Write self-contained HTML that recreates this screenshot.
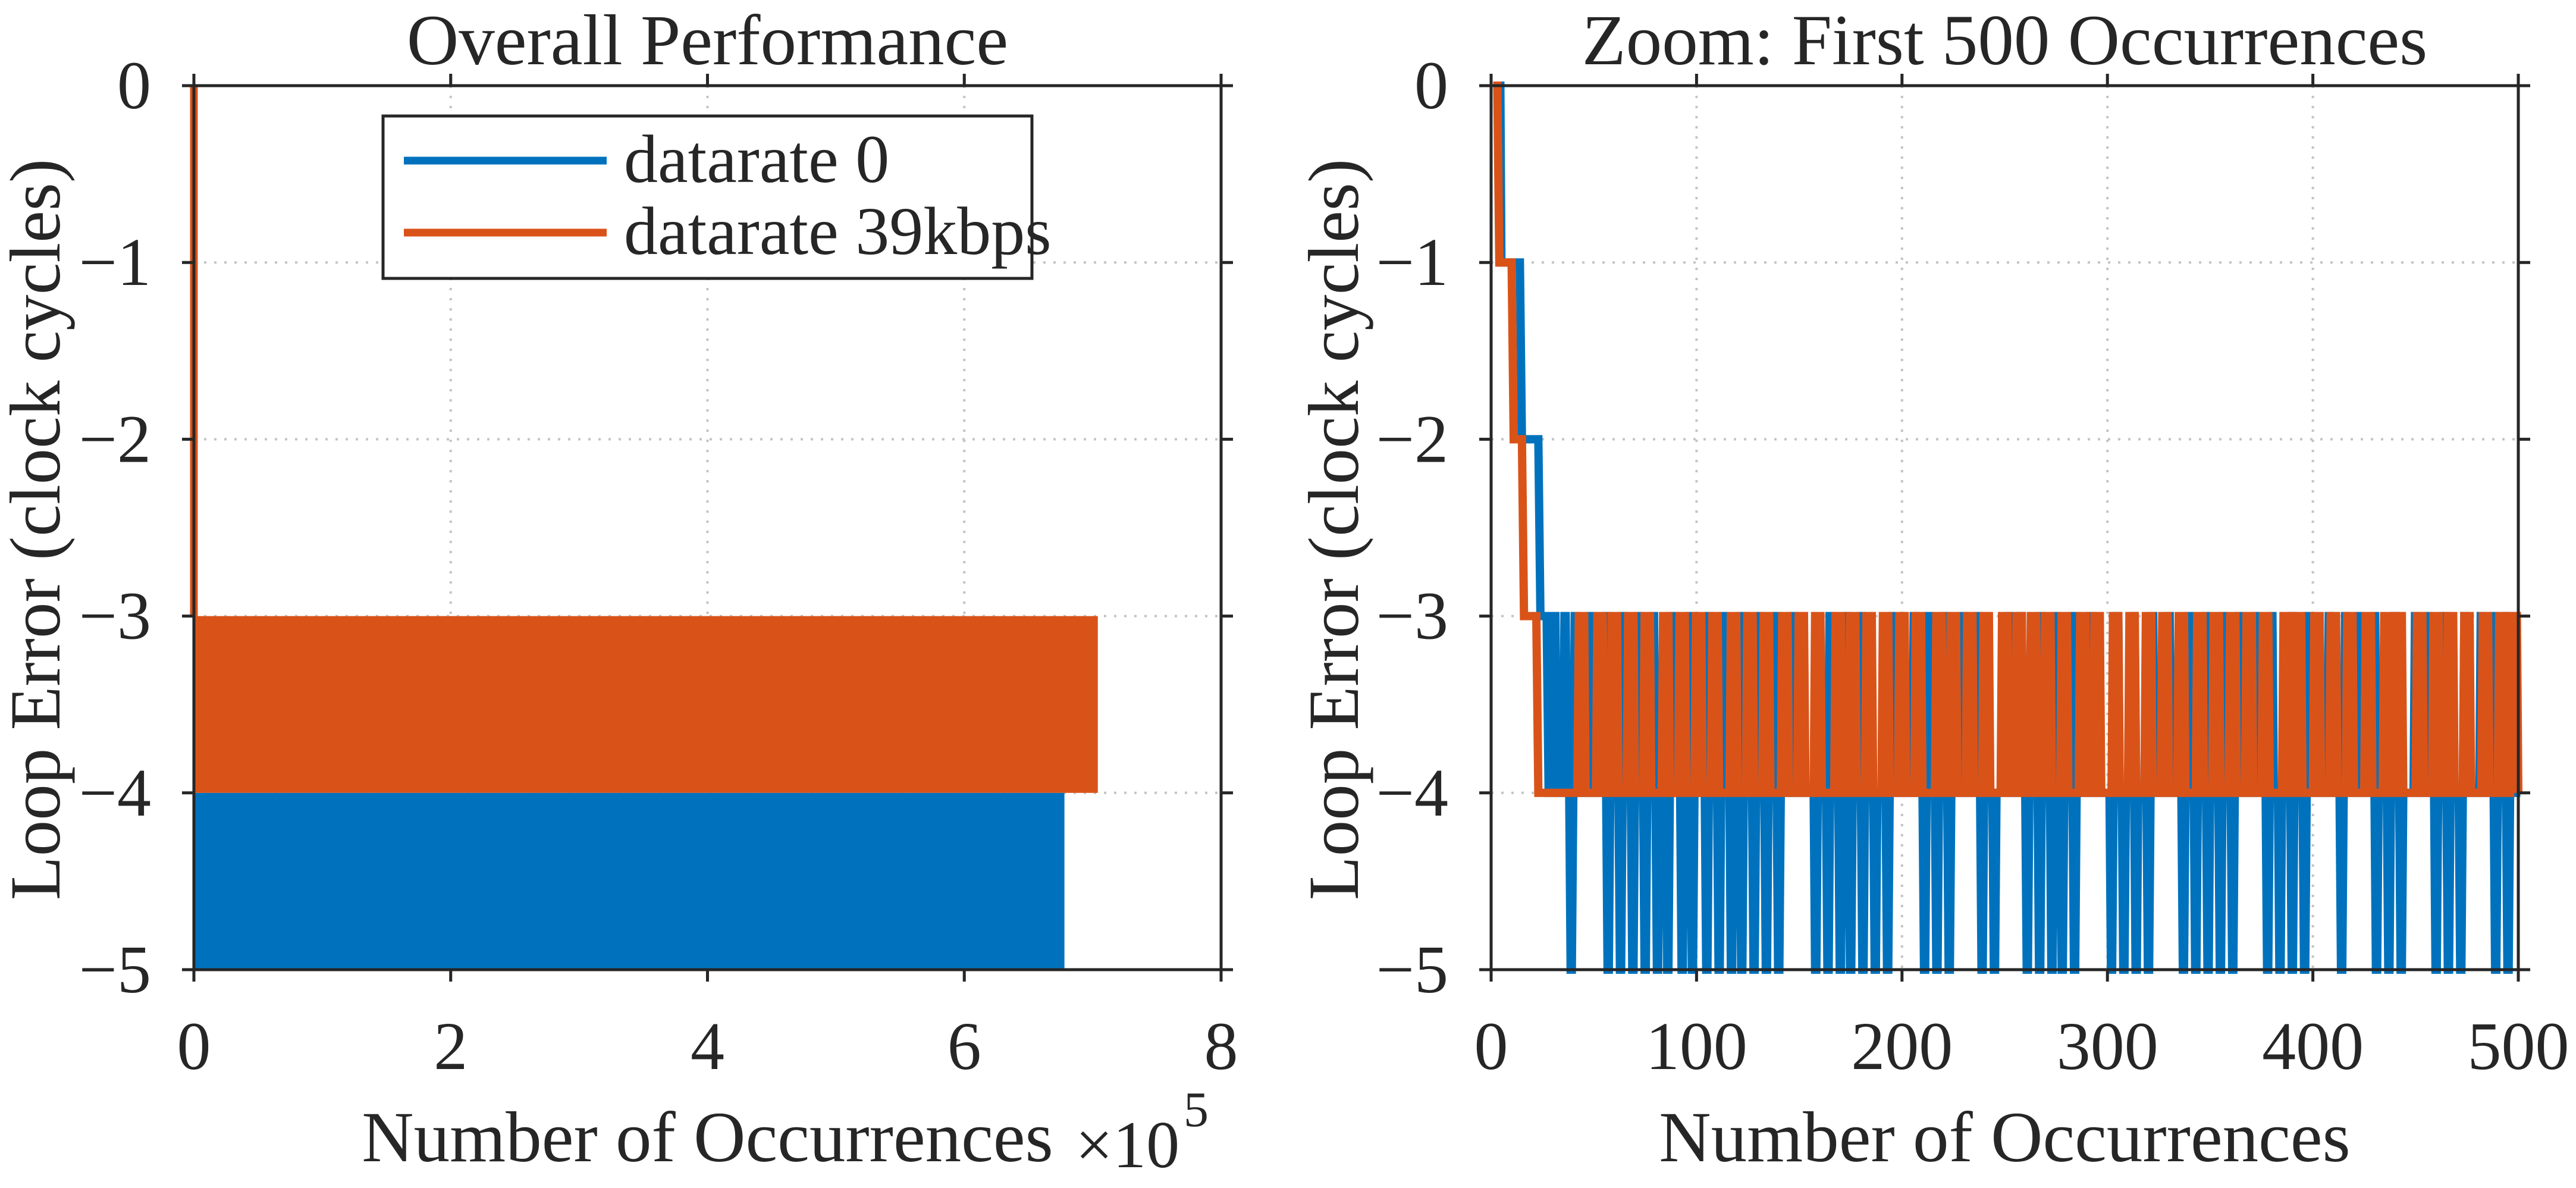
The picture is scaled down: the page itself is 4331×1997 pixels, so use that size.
<!DOCTYPE html>
<html><head><meta charset="utf-8">
<style>
html,body{margin:0;padding:0;background:#fff;}
svg{display:block;}
text{font-family:"Liberation Serif",serif;fill:#262626;}
</style></head>
<body>
<svg id="fig" width="4331" height="1997" viewBox="0 0 4331 1997" xmlns="http://www.w3.org/2000/svg">
<rect x="0" y="0" width="4331" height="1997" fill="#fff"/>
</svg>
<script>
// ---- data ----
const yTicks = [0, -1, -2, -3, -4, -5];
const yTickLabels = ["0", "\u22121", "\u22122", "\u22123", "\u22124", "\u22125"];
const leftXTicks = [0, 2, 4, 6, 8];
const leftXTickLabels = ["0", "2", "4", "6", "8"];
const rightXTicks = [0, 100, 200, 300, 400, 500];
const rightXTickLabels = ["0", "100", "200", "300", "400", "500"];
// overall panel (x in units of 1e5)
const overallBlueLevels = [-5, -4];
const overallBlueCount = 6.78;
const overallOrangeLevels = [-4, -3];
const overallOrangeCount = 7.04;
const overallOrangeTransient = [0, -3];
// zoom panel: initial transients (x, y)
const blueStartX = [1, 4.5, 5, 14, 15, 23, 24, 27, 28];
const blueStartY = [0, 0, -1, -1, -2, -2, -3, -3, -4];
const orangeStartX = [1, 3, 4, 10, 11, 15, 16, 22, 23];
const orangeStartY = [0, 0, -1, -1, -2, -2, -3, -3, -4];
// zoom panel: oscillation events
const orangePeaks = [44,53,60,68,76,85,93,101,109,118,126,134,143,151,159,169,176,184,192,200,208,218,225,233,241,250,257,264,271,279,288,295,304,312,320,328,336,345,353,361,369,377,387,393,402,410,418,427,436,442,452,460,467,475,484,492,498];
const blueDips = [39,57,63,69,75,81,86,93,98,105,111,117,122,128,134,140,158,164,170,175,181,187,193,211,217,223,239,245,261,267,273,278,284,302,308,314,320,337,343,349,355,361,378,384,390,396,414,431,437,443,460,466,472,489,495];
const bluePeaks = [31,36,41,48,56,64,72,79,89,97,106,113,122,131,139,147,165,173,180,195,206,213,221,230,237,252,258,268,275,283,292,305,313,322,330,340,348,356,364,372,380,390,398,408,416,422,430,440,450,456,464,474,482,488,494];
const blueEndY = -4;

// ---- layout ----
const NS = "http://www.w3.org/2000/svg";
const svg = document.getElementById("fig");
const TOP = 144, BOT = 1630;
const panels = {
  left: {x0: 326, x1: 2053, xmin: 0, xmax: 8},
  right: {x0: 2507, x1: 4234, xmin: 0, xmax: 500}
};
const BLUE = "#0072BD", ORANGE = "#D95319", AX = "#262626";
function sy(v) { return TOP + (0 - v) / 5 * (BOT - TOP); }
function sxf(p) { return v => p.x0 + (v - p.xmin) / (p.xmax - p.xmin) * (p.x1 - p.x0); }
function mk(tag, attrs, parent) {
  const e = document.createElementNS(NS, tag);
  for (const k in attrs) e.setAttribute(k, attrs[k]);
  (parent || svg).appendChild(e);
  return e;
}

function drawPanel(key, xTicks, xLabels, title, series) {
  const p = panels[key];
  const sx = sxf(p);
  const g = mk("g", {});
  
  
  xTicks.forEach(t => {
    if (t === p.xmin || t === p.xmax) return;
    const l = mk("line", {x1: sx(t), x2: sx(t), y1: TOP, y2: BOT, stroke: "#c4c4c4", "stroke-width": 4, "stroke-dasharray": "4 13"}, g);
    
    
  });
  yTicks.forEach(t => {
    if (t === 0 || t === -5) return;
    const l = mk("line", {x1: p.x0, x2: p.x1, y1: sy(t), y2: sy(t), stroke: "#c4c4c4", "stroke-width": 4, "stroke-dasharray": "4 13"}, g);
    
    
  });
  series(g, sx);
  const box = mk("rect", {x: p.x0, y: TOP, width: p.x1 - p.x0, height: BOT - TOP, fill: "none", stroke: AX, "stroke-width": 5}, g);
  
  
  xTicks.forEach((t, i) => {
    const x = sx(t);
    const tk = mk("path", {d: `M${x},${TOP} v-20 M${x},${BOT} v20`, stroke: AX, "stroke-width": 5}, g);
    
    
    const lb = mk("text", {x: x, y: 1797, "text-anchor": "middle", "font-size": 114}, g);
    lb.textContent = xLabels[i];
    
    
  });
  yTicks.forEach((t, i) => {
    const y = sy(t);
    const tk = mk("path", {d: `M${p.x0},${y} h-20 M${p.x1},${y} h20`, stroke: AX, "stroke-width": 5}, g);
    
    
    const lb = mk("text", {x: p.x0 - 72, y: y + 38, "text-anchor": "end", "font-size": 114}, g);
    lb.textContent = yTickLabels[i];
    
    
  });
  const cx = (p.x0 + p.x1) / 2;
  const tt = mk("text", {x: cx, y: 108, "text-anchor": "middle", "font-size": 121, fill: "#000"}, g);
  tt.textContent = title;
  
  
  const xl = mk("text", {x: cx, y: 1952, "text-anchor": "middle", "font-size": 121}, g);
  xl.textContent = "Number of Occurrences";
  
  
  const yx = key === "left" ? 100 : 2283;
  const yl = mk("text", {x: yx, y: 890, "text-anchor": "middle", "font-size": 121, transform: `rotate(-90 ${yx} 890)`}, g);
  yl.textContent = "Loop Error (clock cycles)";
  
  
  return sx;
}

drawPanel("left", leftXTicks, leftXTickLabels, "Overall Performance", (g, sx) => {
  const b = mk("rect", {x: sx(0), y: sy(overallBlueLevels[1]), width: sx(overallBlueCount) - sx(0), height: sy(overallBlueLevels[0]) - sy(overallBlueLevels[1]), fill: BLUE}, g);
  
  
  const o = mk("rect", {x: sx(0), y: sy(overallOrangeLevels[1]), width: sx(overallOrangeCount) - sx(0), height: sy(overallOrangeLevels[0]) - sy(overallOrangeLevels[1]), fill: ORANGE}, g);
  
  
  const v = mk("line", {x1: sx(0), x2: sx(0), y1: sy(overallOrangeTransient[0]), y2: sy(overallOrangeTransient[1]), stroke: ORANGE, "stroke-width": 13}, g);
  
  
});
const ex = mk("text", {x: 1808, y: 1962, "font-size": 112});
ex.textContent = "\u00d710";


const ex5 = mk("text", {x: 1990, y: 1893, "font-size": 84});
ex5.textContent = "5";



function buildPoints(sx, startX, startY, events) {
  const pts = startX.map((x, i) => [x, startY[i]]);
  events.sort((a, b) => a.c - b.c);
  events.forEach(e => {
    if (e.w === 2) {
      pts.push([e.c - 2, -4], [e.c - 1.3, e.v], [e.c + 1.3, e.v], [e.c + 2, -4]);
    } else {
      pts.push([e.c - 1, -4], [e.c - 0.3, e.v], [e.c + 0.3, e.v], [e.c + 1, -4]);
    }
  });
  return pts.map(p => `${sx(Math.min(Math.max(p[0], 0), 501)).toFixed(1)},${sy(p[1]).toFixed(1)}`).join(" ");
}
drawPanel("right", rightXTicks, rightXTickLabels, "Zoom: First 500 Occurrences", (g, sx) => {
  const bev = blueDips.map(c => ({c: c, v: -5, w: 1})).concat(bluePeaks.map(c => ({c: c, v: -3, w: 1})));
  const bpts = buildPoints(sx, blueStartX, blueStartY, bev) + ` ${sx(500)},${sy(blueEndY)} ${sx(501)},${sy(blueEndY)}`;
  const bl = mk("polyline", {points: bpts, fill: "none", stroke: BLUE, "stroke-width": 14, "stroke-linejoin": "miter", "stroke-miterlimit": 2}, g);
  
  
  const oev = orangePeaks.map(c => ({c: c, v: -3, w: 2}));
  const opts = buildPoints(sx, orangeStartX, orangeStartY, oev);
  const ol = mk("polyline", {points: opts, fill: "none", stroke: ORANGE, "stroke-width": 14, "stroke-linejoin": "miter", "stroke-miterlimit": 2}, g);
  
  
});

const lg = mk("g", {});


const lbox = mk("rect", {x: 644, y: 195, width: 1091, height: 273, fill: "#fff", stroke: AX, "stroke-width": 5}, lg);


const entries = [["datarate 0", BLUE, 270], ["datarate 39kbps", ORANGE, 391]];
entries.forEach(en => {
  const ln = mk("line", {x1: 679, x2: 1020, y1: en[2], y2: en[2], stroke: en[1], "stroke-width": 13}, lg);
  
  
  const tx = mk("text", {x: 1049, y: en[2] + 36, "font-size": 114, fill: "#000"}, lg);
  tx.textContent = en[0];
  
  
});
</script>
</body></html>
